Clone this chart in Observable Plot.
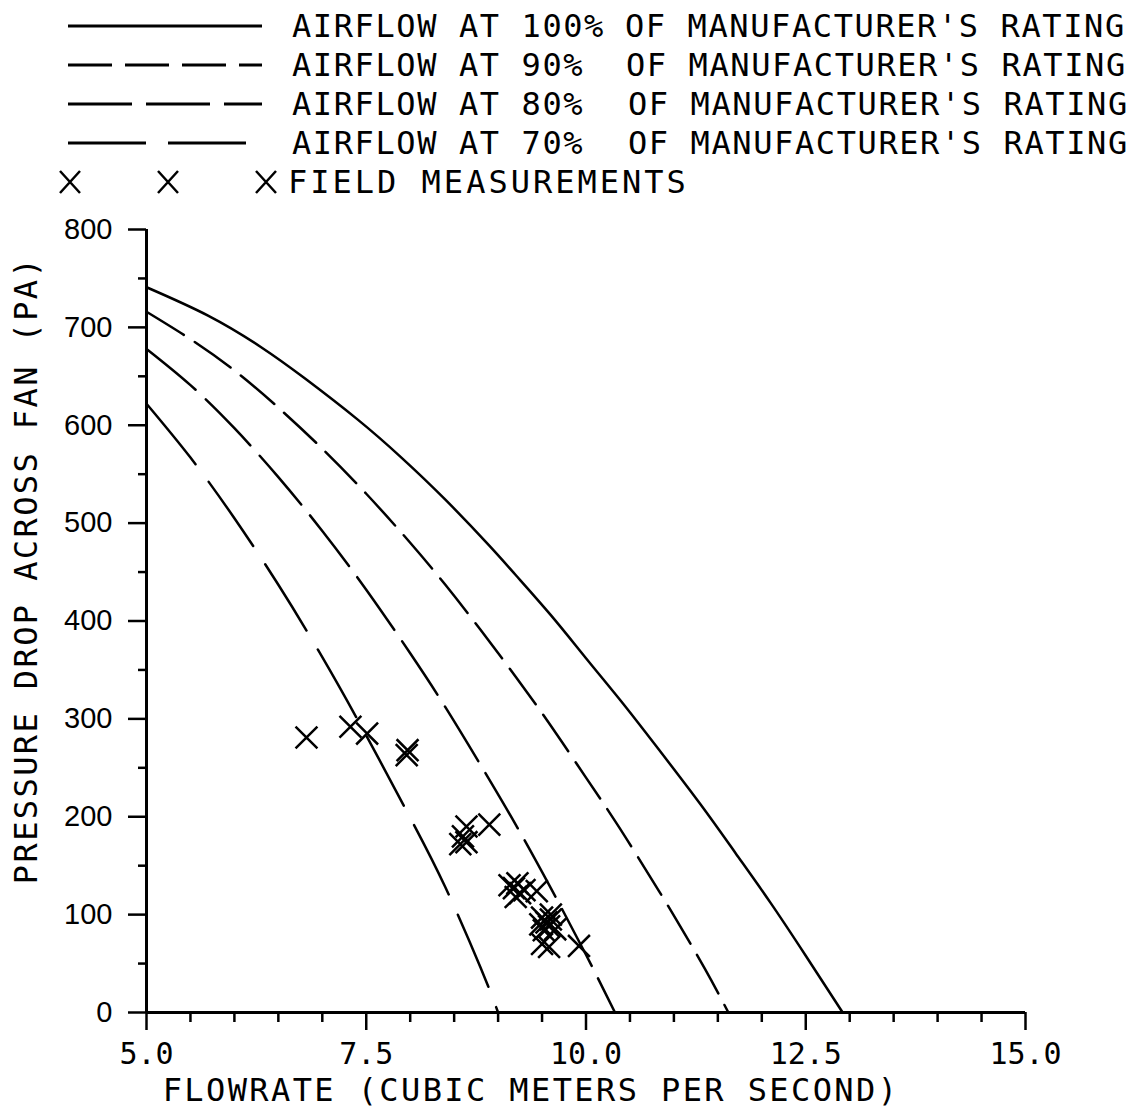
<!DOCTYPE html>
<html>
<head>
<meta charset="utf-8">
<script src="https://cdn.jsdelivr.net/npm/d3@7"></script>
<script src="https://cdn.jsdelivr.net/npm/@observablehq/plot@0.6"></script>
<style>
  html, body { margin: 0; padding: 0; background: #fff; }
  body { width: 1140px; height: 1109px; overflow: hidden; }
  #legend { position: relative; width: 1140px; height: 200px; font-family: "DejaVu Sans Mono", monospace; font-size: 32px; letter-spacing: 1.6px; color: #000; }
  .row { position: absolute; left: 0; width: 1140px; height: 40px; }
  .row svg { position: absolute; left: 0; top: 0; }
  .row .a, .row .b { position: absolute; top: 0; line-height: 40px; white-space: pre; }
  .row .a { left: 292px; }
  #chart svg { display: block; }
</style>
</head>
<body>
<div id="legend"></div>
<div id="chart"></div>
<script>
// ---- data ----
const flow100 = [5.0, 5.7, 6.3, 6.8, 7.4, 7.9, 8.4, 8.9, 9.2, 9.6, 10.0, 10.4, 10.8, 11.3, 11.7, 12.1, 12.5, 12.92];
const pres100 = [741, 712, 680, 648, 606, 567, 524, 477, 447, 406, 362, 318, 272, 213, 163, 112, 58, 0];

const flow90 = [5.0, 5.5, 6.0, 6.5, 7.0, 7.5, 8.0, 8.4, 8.8, 9.2, 9.6, 10.0, 10.35, 10.7, 11.0, 11.35, 11.62];
const pres90 = [716, 688, 656, 618, 576, 530, 480, 437, 391, 343, 293, 240, 193, 143, 99, 45, 0];

const flow80 = [5.0, 5.5, 6.0, 6.5, 7.0, 7.5, 8.0, 8.4, 8.8, 9.2, 9.6, 10.0, 10.33];
const pres80 = [678, 641, 597, 547, 492, 432, 367, 312, 253, 192, 127, 59, 0];

const flow70 = [5.0, 5.5, 6.0, 6.5, 7.0, 7.5, 8.0, 8.4, 8.8, 9.0];
const pres70 = [622, 567, 505, 437, 363, 283, 199, 128, 46, 0];

const measFlow = [6.82, 7.32, 7.51, 7.97, 7.96, 8.64, 8.90, 8.57, 8.64, 8.60, 9.13, 9.18, 9.22, 9.25, 9.30, 9.44, 9.20, 9.50, 9.55, 9.60, 9.58, 9.65, 9.52, 9.60, 9.50, 9.58, 9.92, 9.48];
const measPres = [281, 292, 285, 268, 263, 190, 192, 172, 174, 180, 130, 127, 132, 122, 125, 124, 118, 97, 92, 95, 88, 85, 84, 100, 70, 67, 68, 90];

const xMajor = [5.0, 7.5, 10.0, 12.5, 15.0];
const xMinor = [5.5, 6.0, 6.5, 7.0, 8.0, 8.5, 9.0, 9.5, 10.5, 11.0, 11.5, 12.0, 13.0, 13.5, 14.0, 14.5];
const yMajor = [0, 100, 200, 300, 400, 500, 600, 700, 800];
const yMinor = [50, 150, 250, 350, 450, 550, 650, 750];

const seriesLabels = [
  ["AIRFLOW AT 100%", "OF MANUFACTURER'S RATING"],
  ["AIRFLOW AT 90%", "OF MANUFACTURER'S RATING"],
  ["AIRFLOW AT 80%", "OF MANUFACTURER'S RATING"],
  ["AIRFLOW AT 70%", "OF MANUFACTURER'S RATING"]
];
const measLabel = "FIELD MEASUREMENTS";
const xTitle = "FLOWRATE (CUBIC METERS PER SECOND)";
const yTitle = "PRESSURE DROP ACROSS FAN (PA)";

// ---- styles ----
const dashes = [null, "44,13", "64,14", "78,22"];
const ofLeft = [625, 626, 628, 628];

const toRows = (fl, pr) => fl.map((f, i) => ({flow: f, pressure: pr[i]}));
const curves = [toRows(flow100, pres100), toRows(flow90, pres90), toRows(flow80, pres80), toRows(flow70, pres70)];
const meas = toRows(measFlow, measPres);

// ---- legend ----
const legend = document.getElementById("legend");
const rowCenters = [26, 65, 104, 143, 182];
seriesLabels.forEach((lab, i) => {
  const row = document.createElement("div");
  row.className = "row";
  row.style.top = (rowCenters[i] - 20) + "px";
  const dash = dashes[i] ? ` stroke-dasharray="${dashes[i]}"` : "";
  row.innerHTML = `<svg width="280" height="40"><line x1="68" x2="262" y1="20" y2="20" stroke="#000" stroke-width="3"${dash}/></svg>` +
    `<span class="a">${lab[0]}</span><span class="b" style="left:${ofLeft[i]}px">${lab[1]}</span>`;
  legend.appendChild(row);
});
{
  const row = document.createElement("div");
  row.className = "row";
  row.style.top = (rowCenters[4] - 20) + "px";
  const xs = [70, 168, 266];
  const paths = xs.map(c => `<path d="M${c-10},${20-11}L${c+10},${20+11}M${c-10},${20+11}L${c+10},${20-11}" stroke="#000" stroke-width="2.5" fill="none"/>`).join("");
  row.innerHTML = `<svg width="290" height="40">${paths}</svg><span class="a" style="left:288px;letter-spacing:3px">${measLabel}</span>`;
  legend.appendChild(row);
}

// ---- chart ----
const lineMarks = curves.map((data, i) => Plot.line(data, {
  x: "flow", y: "pressure", curve: "natural",
  stroke: "black", strokeWidth: 2.5,
  ...(dashes[i] ? {strokeDasharray: dashes[i]} : {})
}));

const plot = Plot.plot({
  width: 1140,
  height: 909,
  marginTop: 29,
  marginBottom: 97,
  marginLeft: 146,
  marginRight: 115,
  x: {domain: [5, 15], label: null},
  y: {domain: [0, 800], label: null},
  style: {background: "white", color: "black", overflow: "visible"},
  marks: [
    Plot.axisY(yMinor, {tickSize: 8, tickFormat: () => "", strokeWidth: 2.5, label: null}),
    Plot.axisY(yMajor, {tickSize: 18, tickPadding: 16, fontSize: 29, fontFamily: "Liberation Sans", strokeWidth: 2.5, label: null}),
    Plot.axisX(xMinor, {tickSize: 10, tickFormat: () => "", strokeWidth: 2.5, label: null}),
    Plot.axisX(xMajor, {tickSize: 18, tickPadding: 12, tickFormat: d => d.toFixed(1), fontSize: 30, fontFamily: "DejaVu Sans Mono", strokeWidth: 2.5, label: null}),
    Plot.ruleY([0], {strokeWidth: 3}),
    Plot.ruleX([5], {strokeWidth: 3}),
    ...lineMarks,
    Plot.dot(meas, {x: "flow", y: "pressure", symbol: "times", r: 10, stroke: "black", strokeWidth: 2.5}),
    Plot.text([xTitle], {frameAnchor: "bottom", textAnchor: "middle", lineAnchor: "middle", dx: -55, dy: 78, fontSize: 32, fontFamily: "DejaVu Sans Mono"}),
    Plot.text([yTitle], {frameAnchor: "left", textAnchor: "middle", lineAnchor: "middle", rotate: -90, dx: -120, dy: -51, fontSize: 32, fontFamily: "DejaVu Sans Mono"})
  ]
});
document.getElementById("chart").appendChild(plot);
d3.select(plot).selectAll("text")
  .filter(function () { return this.textContent === xTitle || this.textContent === yTitle; })
  .style("letter-spacing", "2.4px");
</script>
</body>
</html>
